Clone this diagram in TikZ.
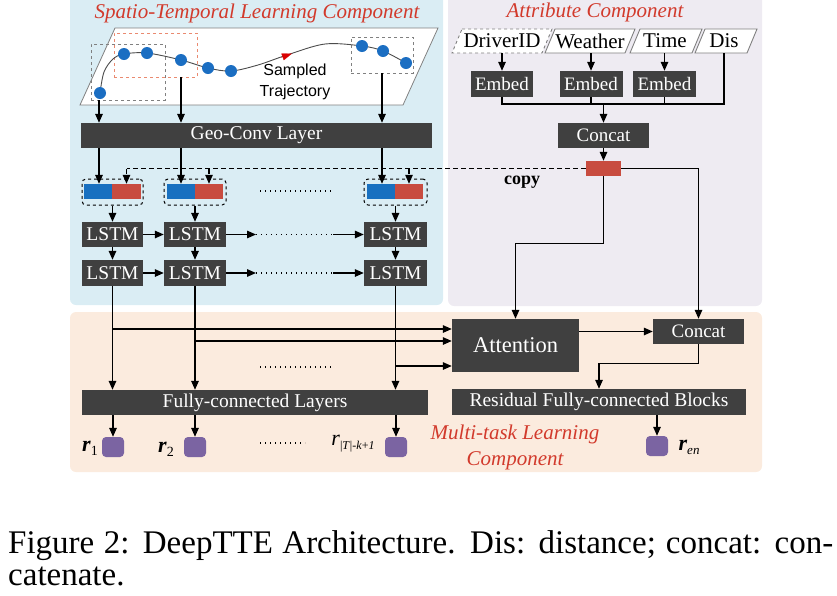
\documentclass[tikz,border=0pt]{standalone}
\usepackage{fontspec}
\setmainfont{Liberation Serif}
\newfontfamily\sansf{Liberation Sans}
\usetikzlibrary{arrows.meta,calc}
\definecolor{bluepanel}{HTML}{DAEDF4}
\definecolor{attrpanel}{HTML}{EEEBF2}
\definecolor{orangepanel}{HTML}{FBEBDE}
\definecolor{darkbox}{HTML}{404040}
\definecolor{dotblue}{HTML}{1B6EC2}
\definecolor{vecblue}{HTML}{1870C0}
\definecolor{vecred}{HTML}{C84C40}
\definecolor{titlered}{HTML}{D23A2C}
\definecolor{purp}{HTML}{7B64A2}
\definecolor{dashred}{HTML}{EA8A70}
\begin{document}
\begin{tikzpicture}[x=1pt,y=-1pt,
  arr/.style={-{Triangle[length=9pt,width=7.5pt]}, line width=1.4pt, black},
  ln/.style={line width=1.4pt, black},
  dotl/.style={line width=1.3pt, dash pattern=on 1.2pt off 3.8pt, black},
  dbox/.style={fill=darkbox, text=white, inner sep=0pt, font=\fontsize{19.5}{20}\selectfont},
  title/.style={text=titlered, inner sep=0pt, font=\fontsize{21}{26}\selectfont\itshape, align=center},
  dbx/.style={draw=gray, dashed, line width=0.9pt, inner sep=0pt},
  grp/.style={draw=black, dashed, line width=1pt, rounded corners=4pt, inner sep=0pt},
  vb/.style={fill=vecblue, inner sep=0pt, minimum height=15},
  vr/.style={fill=vecred, inner sep=0pt, minimum height=15},
  pbox/.style={fill=purp, rounded corners=4pt, minimum width=22, minimum height=20, inner sep=0pt},
  inp/.style={draw=gray, fill=white, line width=0.9pt},
  itxt/.style={inner sep=0pt, minimum height=24, font=\fontsize{21}{21}\selectfont},
  lab/.style={inner sep=0pt, font=\fontsize{22}{22}\selectfont}]
\useasboundingbox (0,0) rectangle (837,595);

% panels
\fill[bluepanel, rounded corners=6pt] (70,-10) rectangle (443,305);
\fill[attrpanel, rounded corners=6pt] (448,-10) rectangle (762,306);
\fill[orangepanel, rounded corners=6pt] (70,312) rectangle (762,472);

% titles
\node[title] (t1) at (257,13) {Spatio-Temporal Learning Component};
\node[title] (t2) at (595,12) {Attribute Component};
\node[title] (t3) at (515,447) {Multi-task Learning\\Component};

% trajectory plane
\draw[draw=gray, fill=white, line width=0.8pt] (115,28) -- (438,28) -- (403,105) -- (80,105) -- cycle;
\node[dbx, minimum width=74, minimum height=56] (db1) at (128,72) {};
\node[dbx, draw=dashred, minimum width=83, minimum height=44] (db2) at (155.5,55) {};
\node[dbx, minimum width=62, minimum height=36] (db3) at (382,55) {};
\draw[gray!60!black, line width=0.9pt] plot[smooth, tension=0.55] coordinates {(100,93) (104,72) (113,59) (124,54) (147,53) (181,60) (208,68) (231,71) (258,65) (287,55) (325,44) (362,46) (383,51) (406,63)};
\draw[-{Triangle[length=10pt,width=7pt]}, red!85!black, line width=0.2pt] (281,57.5) -- (292,53.5);
\foreach \p in {(100,93),(124,54),(147,53),(181,60),(208,68),(231,71),(362,46),(383,51),(406,63)}
  \fill[dotblue] \p circle[radius=6pt];
\node[font=\sansf\fontsize{16}{21}\selectfont, align=center, inner sep=0pt] (st) at (295,82) {Sampled\\Trajectory};

% geo-conv
\node[dbox, minimum width=351, minimum height=25] (geo) at (256.5,135.5) {Geo-Conv Layer};
\coordinate (ca) at (99,0);
\coordinate (cb) at (181,0);
\coordinate (cc) at (382,0);
\draw[arr] (db1.south -| ca) -- (geo.north -| ca);
\draw[arr] (db2.south -| cb) -- (geo.north -| cb);
\draw[arr] (db3.south -| cc) -- (geo.north -| cc);

% feature vectors
\node[grp, minimum width=61, minimum height=26] (g1) at (112.5,192) {};
\node[grp, minimum width=62, minimum height=26] (g2) at (195,192) {};
\node[grp, minimum width=63, minimum height=26] (g3) at (395.5,192) {};
\node[vb, minimum width=28] (b1) at (98,191.5) {};
\node[vr, minimum width=29] (rv1) at (126.5,191.5) {};
\node[vb, minimum width=28] (b2) at (181,191.5) {};
\node[vr, minimum width=28] (rv2) at (209,191.5) {};
\node[vb, minimum width=28] (b3) at (381,191.5) {};
\node[vr, minimum width=28] (rv3) at (409,191.5) {};
\draw[arr] (geo.south -| ca) -- (b1.north -| ca);
\draw[arr] (geo.south -| cb) -- (b2.north -| cb);
\draw[arr] (geo.south -| cc) -- (b3.north -| cc);
\draw[dotl] (260,191) -- (332,191);

% copy
\node[fill=vecred, minimum width=35, minimum height=15, inner sep=0pt] (copy) at (603.5,168.5) {};
\draw[ln, line width=1.2pt, dash pattern=on 5pt off 3pt] (copy.west) -- (copy.west -| rv1.north);
\draw[arr, line width=1.2pt, dash pattern=on 5pt off 3pt] (copy.west -| rv1.north) -- (rv1.north);
\draw[arr, line width=1.2pt, dash pattern=on 5pt off 3pt] (copy.west -| rv2.north) -- (rv2.north);
\draw[arr, line width=1.2pt, dash pattern=on 5pt off 3pt] (copy.west -| rv3.north) -- (rv3.north);
\node[font=\bfseries\fontsize{18}{18}\selectfont, inner sep=0pt] (cpl) at (522,182) {copy};

% LSTMs
\node[dbox, minimum width=61, minimum height=25] (l11) at (112.5,234.5) {LSTM};
\node[dbox, minimum width=62, minimum height=25] (l12) at (195,234.5) {LSTM};
\node[dbox, minimum width=63, minimum height=25] (l13) at (395.5,234.5) {LSTM};
\node[dbox, minimum width=61, minimum height=26] (l21) at (112.5,273) {LSTM};
\node[dbox, minimum width=62, minimum height=26] (l22) at (195,273) {LSTM};
\node[dbox, minimum width=63, minimum height=26] (l23) at (395.5,273) {LSTM};
\draw[arr] (g1.south) -- (l11.north);
\draw[arr] (g2.south) -- (l12.north);
\draw[arr] (g3.south) -- (l13.north);
\draw[arr] (l11.south) -- (l21.north);
\draw[arr] (l12.south) -- (l22.north);
\draw[arr] (l13.south) -- (l23.north);
\coordinate (p1) at (256,234.5);
\coordinate (p2) at (333,234.5);
\coordinate (q1) at (256,273);
\coordinate (q2) at (333,273);
\draw[arr] (l11.east) -- (l12.west);
\draw[arr] (l12.east) -- (p1);
\draw[dotl] (p1) -- (p2);
\draw[arr] (p2) -- (l13.west);
\draw[arr] (l21.east) -- (l22.west);
\draw[arr] (l22.east) -- (q1);
\draw[dotl] (q1) -- (q2);
\draw[arr] (q2) -- (l23.west);

% multi-task
\node[dbox, minimum width=346, minimum height=25] (fc) at (255,402.5) {Fully-connected Layers};
\node[dbox, minimum width=127, minimum height=53, font=\fontsize{22.5}{23}\selectfont] (att) at (515.5,345.5) {Attention};
\node[dbox, minimum width=91, minimum height=25, font=\fontsize{19}{20}\selectfont] (cc2) at (698.5,331.5) {Concat};
\node[dbox, minimum width=294, minimum height=26] (res) at (599,402) {Residual Fully-connected Blocks};
\draw[arr] (l21.south) -- (fc.north -| l21.south);
\draw[arr] (l22.south) -- (fc.north -| l22.south);
\draw[arr] (l23.south) -- (fc.north -| l23.south);
\coordinate (h1) at (0,329);
\coordinate (h2) at (0,341);
\coordinate (h3) at (0,366);
\draw[arr] (l21.south |- h1) -- (att.west |- h1);
\draw[arr] (l22.south |- h2) -- (att.west |- h2);
\draw[arr] (l23.south |- h3) -- (att.west |- h3);
\draw[dotl] (260,367) -- (332,367);

\node[pbox] (o1) at (113,447) {};
\node[pbox] (o2) at (195,447) {};
\node[pbox] (o3) at (396,447) {};
\node[pbox] (o4) at (657,446) {};
\draw[arr] (fc.south -| o1) -- (o1.north);
\draw[arr] (fc.south -| o2) -- (o2.north);
\draw[arr] (fc.south -| o3) -- (o3.north);
\draw[arr] (res.south -| o4) -- (o4.north);
\draw[dotl] (260,443) -- (305,443);
\node[lab] (lr1) at (90,448) {\textbf{\textit{r}}\raisebox{-4pt}{\fontsize{14}{14}\selectfont 1}};
\node[lab] (lr2) at (166,449) {\textbf{\textit{r}}\raisebox{-4pt}{\fontsize{14}{14}\selectfont 2}};
\node[lab] (lr3) at (353,444) {\textit{r}\raisebox{-4pt}{\fontsize{12}{12}\selectfont |\textit{T}|-\textit{k}+\textit{1}}};
\node[lab] (lr4) at (689,447) {\textbf{\textit{r}}\raisebox{-4pt}{\fontsize{13}{13}\selectfont\itshape en}};

% attribute component
\draw[inp, dashed] (462,29) -- (552,29) -- (542,53) -- (452,53) -- cycle;
\draw[inp] (555,29) -- (635,29) -- (625,53) -- (545,53) -- cycle;
\draw[inp] (640,29) -- (702,29) -- (692,53) -- (630,53) -- cycle;
\draw[inp] (705,29) -- (757,29) -- (747,53) -- (695,53) -- cycle;
\node[itxt] (iD) at (502,41) {DriverID};
\node[itxt] (iW) at (590,41) {Weather};
\node[itxt] (iT) at (665,41) {Time};
\node[itxt] (iS) at (724,41) {Dis};
\node[dbox, minimum width=62, minimum height=26, font=\fontsize{19}{20}\selectfont] (e1) at (502,84) {Embed};
\node[dbox, minimum width=63, minimum height=26, font=\fontsize{19}{20}\selectfont] (e2) at (591,84) {Embed};
\node[dbox, minimum width=63, minimum height=26, font=\fontsize{19}{20}\selectfont] (e3) at (664.5,84) {Embed};
\node[dbox, minimum width=91, minimum height=25, font=\fontsize{19}{20}\selectfont] (cc1) at (603.5,135.5) {Concat};
\draw[arr] (iD.south -| e1) -- (e1.north);
\draw[arr] (iW.south -| e2) -- (e2.north);
\draw[arr] (iT.south -| e3) -- (e3.north);
\coordinate (hj) at (0,104);
\draw[ln] (e1.south) -- (e1.south |- hj) -- (iS.south |- hj) -- (iS.south);
\draw[ln] (e2.south) -- (e2.south |- hj);
\draw[ln] (e3.south) -- (e3.south |- hj);
\draw[arr] (cc1.north |- hj) -- (cc1.north);
\draw[arr] (cc1.south) -- (copy.north);
\draw[arr] (copy.south) -- ++(0,67) -| (att.north);
\draw[arr] (copy.east) -| (cc2.north);
\draw[arr] (att.east |- cc2.west) -- (cc2.west);
\draw[arr] (cc2.south) -- ++(0,19) -| (res.north);

% caption
\node[anchor=base west, inner sep=0pt, font=\fontsize{33}{33}\selectfont] (cap1) at (8,553) {\makebox[825pt][s]{Figure 2: DeepTTE Architecture. Dis: distance; concat: con-}};
\node[anchor=base west, inner sep=0pt, font=\fontsize{33}{33}\selectfont] (cap2) at (8,585) {catenate.};
\end{tikzpicture}
\end{document}
